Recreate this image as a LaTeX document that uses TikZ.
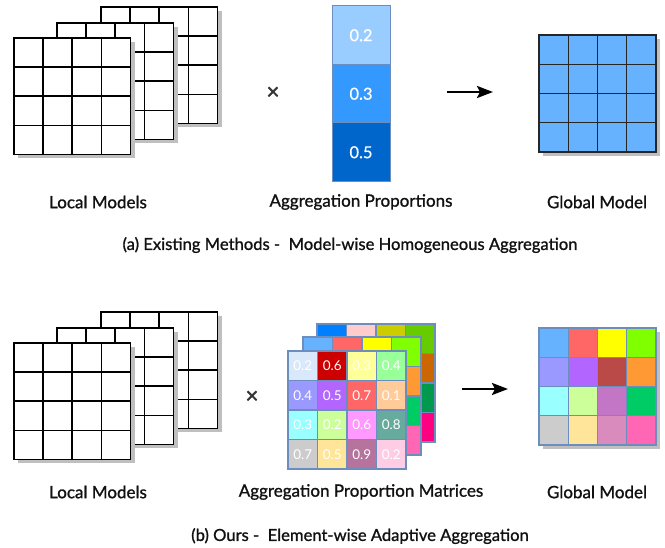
\documentclass[tikz,border=0pt]{standalone}
\usepackage{fontspec}
\setmainfont{Lato}
\newfontfamily\lblfont[FakeBold=1.1]{Lato}
\newfontfamily\numfont[FakeBold=0.5]{Lato}
\newfontfamily\timesfont[FakeBold=1.5]{Lato}
\usetikzlibrary{arrows.meta}
\definecolor{shadowc}{HTML}{BFBFBF}
\definecolor{bordc}{HTML}{6C8EBF}
\definecolor{txtc}{HTML}{111111}
\definecolor{xc}{HTML}{333333}
% bar colours
\definecolor{barA}{HTML}{99CCFF}
\definecolor{barB}{HTML}{3399FF}
\definecolor{barC}{HTML}{0066CC}
\definecolor{gblue}{HTML}{66B2FF}
% matrix colours
\definecolor{fa}{HTML}{DAE8FC}\definecolor{fb}{HTML}{CC0000}\definecolor{fc}{HTML}{FFFF99}\definecolor{fd}{HTML}{99FF99}
\definecolor{fe}{HTML}{9999FF}\definecolor{ff}{HTML}{B266FF}\definecolor{fg}{HTML}{FF6666}\definecolor{fh}{HTML}{FFCC99}
\definecolor{fi}{HTML}{99FFFF}\definecolor{fj}{HTML}{CCFF99}\definecolor{fk}{HTML}{FF99FF}\definecolor{fl}{HTML}{67AB9F}
\definecolor{fm}{HTML}{CCCCCC}\definecolor{fn}{HTML}{FFE599}\definecolor{fo}{HTML}{B5739D}\definecolor{fp}{HTML}{FFCCE6}
\definecolor{ma}{HTML}{66B2FF}\definecolor{mb}{HTML}{FF6666}\definecolor{mc}{HTML}{FFFF00}\definecolor{md}{HTML}{80FF00}
\definecolor{me}{HTML}{FF9933}\definecolor{mf}{HTML}{00CC66}\definecolor{mg}{HTML}{FF66B3}
\definecolor{ba}{HTML}{007FFF}\definecolor{bb}{HTML}{FFCCCC}\definecolor{bc}{HTML}{CCCC00}\definecolor{bd}{HTML}{66CC00}
\definecolor{be}{HTML}{CC6600}\definecolor{bf}{HTML}{00994D}\definecolor{bg}{HTML}{FF0080}
\definecolor{ga}{HTML}{B94A48}\definecolor{gb}{HTML}{C476C6}\definecolor{gc}{HTML}{DA8BBE}
\tikzset{
  gridline/.style={line width=1.6pt, draw=black},
  lbl/.style={font=\lblfont\fontsize{17}{20}\selectfont, text=txtc, inner sep=0pt},
  captxt/.style={font=\lblfont\fontsize{16.6}{20}\selectfont, text=txtc, inner sep=0pt},
  barcell/.style={draw=bordc, line width=1pt, minimum width=58pt, minimum height=58.5pt, inner sep=0pt, text=white, font=\numfont\fontsize{16.5}{16.5}\selectfont},
  mcell/.style={draw=bordc, line width=1.3pt, minimum size=29.5pt, inner sep=0pt, text=white, font=\fontsize{13.5}{13.5}\selectfont},
  gcell/.style={draw=bordc, line width=1.3pt, minimum size=29.25pt, inner sep=0pt},
  bcell/.style={draw=black!85, line width=1.4pt, minimum size=29.25pt, inner sep=0pt, fill=gblue},
  arr/.style={line width=2.6pt, -{Stealth[length=16pt,width=12pt,inset=3pt]}},
  times/.style={font=\timesfont\fontsize{22}{22}\selectfont, text=xc, inner sep=0pt},
}
\newcommand\lmgrid[2]{%
  \fill[shadowc] (#1+4,#2+4) rectangle ++(116.5,116.5);
  \fill[white] (#1,#2) rectangle ++(116.5,116.5);
  \draw[gridline] (#1,#2) rectangle ++(116.5,116.5);
  \foreach \i in {1,2,3} {
    \draw[gridline] (#1+\i*29.125,#2) -- ++(0,116.5);
    \draw[gridline] (#1,#2+\i*29.125) -- ++(116.5,0);
  }%
}
\begin{document}
\begin{tikzpicture}[x=1pt,y=-1pt]
\useasboundingbox[fill=white] (0,0) rectangle (665,548);

% ================= (a) =================
\lmgrid{101}{7}
\lmgrid{57}{23}
\lmgrid{14}{38}

\node[times] (xa) at (273,93) {×};

\node[barcell, fill=barA] (pa1) at (361,35.25) {0.2};
\node[barcell, fill=barB] (pa2) at (361,93.75) {0.3};
\node[barcell, fill=barC] (pa3) at (361,152.25) {0.5};

\coordinate (aa1) at (447,92);
\coordinate (aa2) at (493,92);
\draw[arr] (aa1) -- (aa2);

\fill[shadowc] (543,39) rectangle ++(117,117);
\foreach \c in {0,1,2,3}{
  \foreach \r in {0,1,2,3}{
    \node[bcell] (ga-\c-\r) at (539+14.625+\c*29.25, 35+14.625+\r*29.25) {};
  }
}
\draw[line width=1.6pt, draw=black!85] (539,35) rectangle ++(117,117);

\node[lbl] (la1) at (98,202) {Local Models};
\node[lbl] (la2) at (361,202) {Aggregation Proportions};
\node[lbl] (la3) at (597,202) {Global Model};
\node[captxt] (capa) at (350,245) {(a) Existing Methods -\ \ Model-wise Homogeneous Aggregation};

% ================= (b) =================
\lmgrid{101}{312}
\lmgrid{57}{328}
\lmgrid{14}{343}

\node[times] (xb) at (252,397) {×};

% back matrix
\foreach \c/\r/\col in {0/0/ba,1/0/bb,2/0/bc,3/0/bd,3/1/be,3/2/bf,3/3/bg,
  0/1/white,1/1/white,2/1/white,0/2/white,1/2/white,2/2/white,0/3/white,1/3/white,2/3/white}{
  \node[mcell, fill=\col] (bm-\c-\r) at (317+14.75+\c*29.5, 324+14.75+\r*29.5) {};
}
% middle matrix
\foreach \c/\r/\col in {0/0/ma,1/0/mb,2/0/mc,3/0/md,3/1/me,3/2/mf,3/3/mg,
  0/1/white,1/1/white,2/1/white,0/2/white,1/2/white,2/2/white,0/3/white,1/3/white,2/3/white}{
  \node[mcell, fill=\col] (mm-\c-\r) at (303+14.75+\c*29.5, 337+14.75+\r*29.5) {};
}
% front matrix
\foreach \c/\r/\col/\t in {0/0/fa/0.2,1/0/fb/0.6,2/0/fc/0.3,3/0/fd/0.4,
  0/1/fe/0.4,1/1/ff/0.5,2/1/fg/0.7,3/1/fh/0.1,
  0/2/fi/0.3,1/2/fj/0.2,2/2/fk/0.6,3/2/fl/0.8,
  0/3/fm/0.7,1/3/fn/0.5,2/3/fo/0.9,3/3/fp/0.2}{
  \node[mcell, fill=\col] (fm-\c-\r) at (288+14.75+\c*29.5, 351+14.75+\r*29.5) {\t};
}

\coordinate (ab1) at (462,389);
\coordinate (ab2) at (508,389);
\draw[arr] (ab1) -- (ab2);

\fill[shadowc] (543,332) rectangle ++(117,117);
\foreach \c/\r/\col in {0/0/ma,1/0/mb,2/0/mc,3/0/md,
  0/1/fe,1/1/ff,2/1/ga,3/1/me,
  0/2/fi,1/2/fj,2/2/gb,3/2/mf,
  0/3/fm,1/3/fn,2/3/gc,3/3/mg}{
  \node[gcell, fill=\col] (gb-\c-\r) at (539+14.625+\c*29.25, 328+14.625+\r*29.25) {};
}

\node[lbl] (lb1) at (98,492) {Local Models};
\node[lbl] (lb2) at (361,492) {Aggregation Proportion Matrices};
\node[lbl] (lb3) at (597,492) {Global Model};
\node[captxt] (capb) at (360,536) {(b) Ours -\ \ Element-wise Adaptive Aggregation};
\end{tikzpicture}
\end{document}
